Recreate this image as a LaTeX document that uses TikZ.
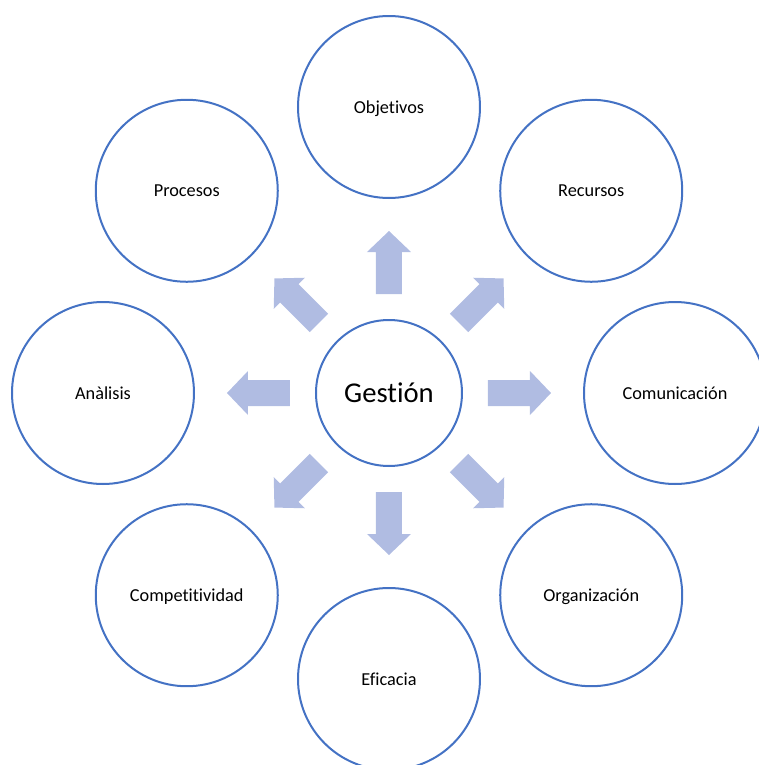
\documentclass[tikz,border=0pt]{standalone}
\usepackage{fontspec}
\setmainfont{Carlito}[Ligatures=CommonOff]
\usetikzlibrary{positioning}
\definecolor{ringblue}{HTML}{4472C4}
\definecolor{arrowfill}{HTML}{B0BCE2}
\tikzset{
  topic/.style={circle, draw=ringblue, line width=1.5pt, fill=white, minimum size=136.5pt, inner sep=0pt, text depth=0pt, font=\fontsize{13.7}{16}\selectfont},
  hub/.style={topic, minimum size=109.5pt, font=\fontsize{21.5}{26}\selectfont},
  blockarrow/.style={fill=arrowfill}
}

\begin{document}
\begin{tikzpicture}[x=0.75pt, y=0.75pt]
  \useasboundingbox (-389,-372) rectangle (369,393);
  \node[hub] (g) at (0,0) {Gestión};
  \foreach \a/\lbl [count=\i] in {90/Objetivos, 45/Recursos, 0/Comunicación, -45/Organización,
      -90/Eficacia, -135/Competitividad, 180/Anàlisis, 135/Procesos} {
    \node[topic] (t\i) at (\a:286) {\lbl};
    \begin{scope}[shift={(g.center)}, rotate=\a]
      \fill[blockarrow] (99,-13) -- (141,-13) -- (141,-22) -- (162,0) -- (141,22) -- (141,13) -- (99,13) -- cycle;
    \end{scope}
  }
\end{tikzpicture}
\end{document}
